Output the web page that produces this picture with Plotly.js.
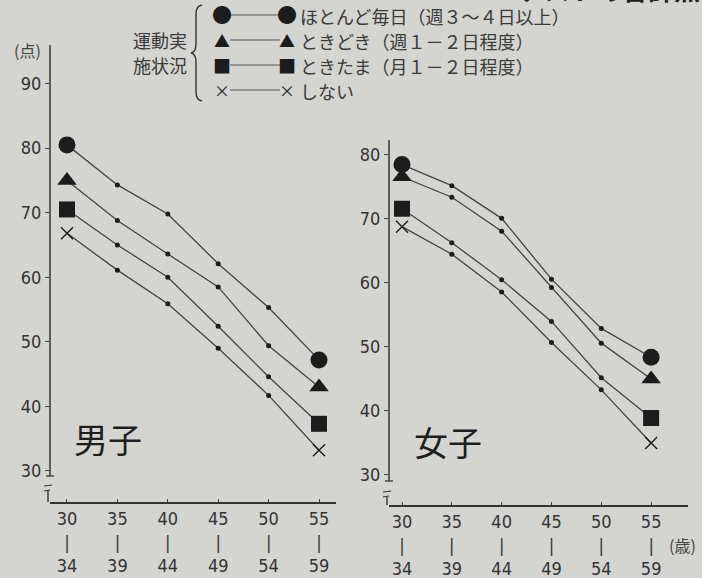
<!DOCTYPE html>
<html>
<head>
<meta charset="utf-8">
<script src="https://cdn.plot.ly/plotly-3.0.1.min.js"></script>
<style>
html,body{margin:0;padding:0;background:#d4d4d0;}
#chart{width:702px;height:578px;}
</style>
</head>
<body>
<div id="chart"></div>
<script>
// ---------- data ----------
const ageGroups = ['30-34', '35-39', '40-44', '45-49', '50-54', '55-59'];
const ageTickLabels = ['30<br>|<br>34', '35<br>|<br>39', '40<br>|<br>44', '45<br>|<br>49', '50<br>|<br>54', '55<br>|<br>59'];
const seriesNames = ['ほとんど毎日（週３～４日以上）', 'ときどき（週１－２日程度）', 'ときたま（月１－２日程度）', 'しない'];
const legendTitleLines = ['運動実', '施状況'];
const panelNames = ['男子', '女子'];
const yTicksMale = [30, 40, 50, 60, 70, 80, 90];
const yTicksFemale = [30, 40, 50, 60, 70, 80];

const maleDaily     = [80.5, 74.3, 69.8, 62.1, 55.3, 47.2];
const maleSometimes = [75.0, 68.8, 63.6, 58.5, 49.4, 43.0];
const maleRarely    = [70.5, 65.0, 60.0, 52.4, 44.6, 37.3];
const maleNone      = [66.8, 61.1, 55.9, 49.0, 41.7, 33.2];

const femaleDaily     = [78.5, 75.2, 70.1, 60.6, 52.9, 48.4];
const femaleSometimes = [76.6, 73.4, 68.1, 59.3, 50.6, 45.0];
const femaleRarely    = [71.6, 66.3, 60.5, 54.0, 45.2, 38.9];
const femaleNone      = [68.8, 64.5, 58.6, 50.7, 43.3, 35.0];

// ---------- styling ----------
const W = 702, H = 578;
const px = x => x / W, py = y => 1 - y / H;
const INK = '#1c1c1c', LINE = '#444';
const NUMFONT = '"DejaVu Sans Condensed", "Liberation Sans", sans-serif';
const JPFONT = '"Noto Sans CJK JP", sans-serif';

const endSymbols = ['circle', 'triangle-up', 'square', 'x-thin-open'];
const endSizes = [17, 17, 16, 12];

function makeTrace(vals, idx, xa, ya) {
  const n = vals.length;
  const isEnd = i => (i === 0 || i === n - 1);
  const sym = vals.map((v, i) => isEnd(i) ? endSymbols[idx] : 'circle');
  const size = vals.map((v, i) => isEnd(i) ? endSizes[idx] : 5);
  const lw = vals.map((v, i) => (idx === 3 && isEnd(i)) ? 1.4 : 0);
  return {
    type: 'scatter', mode: 'lines+markers',
    x: ageGroups, y: vals, xaxis: xa, yaxis: ya,
    name: seriesNames[idx], showlegend: false, hoverinfo: 'skip',
    line: {color: LINE, width: 1.3},
    marker: {symbol: sym, size: size, color: INK, opacity: 1, line: {color: INK, width: lw}},
    cliponaxis: false
  };
}

const data = [];
[maleDaily, maleSometimes, maleRarely, maleNone].forEach((s, i) => data.push(makeTrace(s, i, 'x', 'y')));
[femaleDaily, femaleSometimes, femaleRarely, femaleNone].forEach((s, i) => data.push(makeTrace(s, i, 'x2', 'y2')));

function xAxis(domain, range, anchor) {
  return {
    domain: domain, type: 'category', range: range, anchor: anchor,
    categoryorder: 'array', categoryarray: ageGroups,
    tickmode: 'array', tickvals: ageGroups, ticktext: ageTickLabels,
    showline: true, linecolor: '#333', linewidth: 1.6,
    ticks: 'inside', ticklen: 3, tickcolor: '#444',
    showgrid: false, zeroline: false,
    tickfont: {family: NUMFONT, size: 18, color: '#333'},
    fixedrange: true
  };
}
function yAxis(domain, range, tv, anchor) {
  return {
    domain: domain, range: range, anchor: anchor,
    tickmode: 'array', tickvals: tv,
    showline: false, ticks: 'outside', ticklen: 4, tickcolor: '#444',
    showgrid: false, zeroline: false,
    tickfont: {family: NUMFONT, size: 18, color: '#333'},
    fixedrange: true
  };
}

const layout = {
  width: W, height: H,
  paper_bgcolor: '#d4d4d0', plot_bgcolor: 'rgba(0,0,0,0)',
  margin: {l: 0, r: 0, t: 0, b: 0},
  showlegend: false,
  xaxis: xAxis([px(50), px(336)], [-0.337, 5.337], 'y'),
  yaxis: yAxis([py(502), py(45)], [25.19, 95.97], yTicksMale, 'x'),
  xaxis2: xAxis([px(389), px(688)], [-0.261, 5.74], 'y2'),
  yaxis2: yAxis([py(505), py(140)], [25.31, 82.34], yTicksFemale, 'x2'),
  shapes: [],
  annotations: []
};

const S = layout.shapes, A = layout.annotations;
function seg(x0, y0, x1, y1, w, c) {
  S.push({type: 'line', xref: 'paper', yref: 'paper', x0: px(x0), y0: py(y0), x1: px(x1), y1: py(y1),
          line: {color: c || '#333', width: w || 1.5}});
}
function txt(x, y, t, size, opts) {
  A.push(Object.assign({xref: 'paper', yref: 'paper', x: px(x), y: py(y), text: t, showarrow: false,
    xanchor: 'center', yanchor: 'middle', borderpad: 0, font: {family: JPFONT, size: size, color: INK}}, opts || {}));
}

// y axis lines with break marks
seg(50, 45, 50, 476);
seg(46, 476, 54, 476, 1.3);
seg(44, 486, 52, 485, 1.1);
seg(44, 491, 50, 490, 1.1);
seg(48, 491, 48, 502, 1.4);

seg(389, 140, 389, 481);
seg(385, 481, 393, 481, 1.3);
seg(383, 492, 391, 491, 1.1);
seg(383, 497, 389, 496, 1.1);
seg(387, 497, 387, 505, 1.4);

// legend
const rows = [15, 40, 65, 90];
const glyphs = ['●', '▲', '■', '×'];
const gsize = [20, 16, 18, 16];
rows.forEach((ry, i) => {
  seg(230, ry, 280, ry, 1.2, '#555');
  txt(222, ry, glyphs[i], gsize[i], {font: {family: JPFONT, size: gsize[i], color: INK}});
  txt(287, ry, glyphs[i], gsize[i], {font: {family: JPFONT, size: gsize[i], color: INK}});
  txt(299, ry + 1, seriesNames[i], 18, {xanchor: 'left',
      font: {family: JPFONT, size: 18, color: '#3a3a3a'}});
});
txt(188, 40, legendTitleLines[0], 18, {xanchor: 'right', font: {family: JPFONT, size: 18, color: '#3a3a3a'}});
txt(188, 65, legendTitleLines[1], 18, {xanchor: 'right', font: {family: JPFONT, size: 18, color: '#3a3a3a'}});
// brace
const bx = v => px(v), by = v => py(v);
S.push({type: 'path', xref: 'paper', yref: 'paper', line: {color: '#333', width: 1.4},
  path: `M ${bx(202)} ${by(5)} Q ${bx(196)} ${by(6)} ${bx(196)} ${by(14)} L ${bx(196)} ${by(44)} Q ${bx(196)} ${by(52)} ${bx(191)} ${by(53)} Q ${bx(196)} ${by(54)} ${bx(196)} ${by(62)} L ${bx(196)} ${by(92)} Q ${bx(196)} ${by(100)} ${bx(202)} ${by(101)}`});

// axis unit labels
txt(27, 50, '(点)', 16, {font: {family: JPFONT, size: 16, color: '#444'}});
txt(668, 545, '(歳)', 16, {xanchor: 'left', font: {family: JPFONT, size: 16, color: '#444'}});

// panel names
txt(108, 438, panelNames[0], 34, {font: {family: JPFONT, size: 34, color: '#1e1e1e'}});
txt(448, 441, panelNames[1], 34, {font: {family: JPFONT, size: 34, color: '#1e1e1e'}});

// cut-off heading at top edge
A.push({xref: 'paper', yref: 'paper', x: 1.0, y: py(9), xanchor: 'right', yanchor: 'bottom',
  text: '<b>テストの合計点</b>', showarrow: false,
  font: {family: JPFONT, size: 26, color: '#222'}});

Plotly.newPlot('chart', data, layout, {staticPlot: true, displayModeBar: false});
</script>
</body>
</html>
